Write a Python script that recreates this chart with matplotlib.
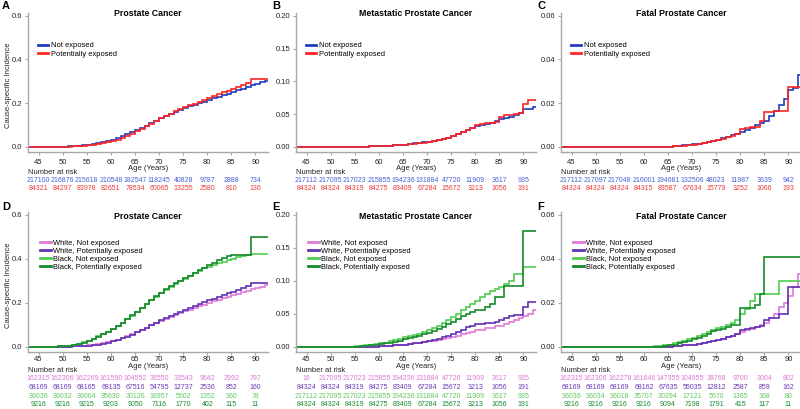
import numpy as np
import matplotlib.pyplot as plt

plt.rcParams['font.family'] = ['Liberation Sans', 'DejaVu Sans']

# yearly cumulative incidence, one value per age from 43 to 92 (step curves)
first_age = 43
ticks = [45, 50, 55, 60, 65, 70, 75, 80, 85, 90]

# ---- A: prostate cancer
a_not = [0, 0, 0, 0, 0, 0, 0.001,
         0.001, 0.002, 0.003, 0.004, 0.006, 0.008, 0.011, 0.015, 0.020, 0.026,
         0.033, 0.040, 0.048, 0.057, 0.066, 0.076, 0.086, 0.097, 0.108, 0.119,
         0.130, 0.140, 0.150, 0.159, 0.168, 0.177, 0.185, 0.193, 0.200, 0.207,
         0.214, 0.222, 0.230, 0.237, 0.244, 0.251, 0.259, 0.267, 0.275, 0.282,
         0.289, 0.296, 0.302]
a_pot = [0, 0, 0, 0, 0, 0, 0.001,
         0.001, 0.001, 0.002, 0.003, 0.004, 0.006, 0.008, 0.011, 0.015, 0.020,
         0.027, 0.033, 0.041, 0.050, 0.060, 0.071, 0.082, 0.094, 0.106, 0.118,
         0.130, 0.141, 0.152, 0.162, 0.172, 0.181, 0.190, 0.198, 0.206, 0.214,
         0.222, 0.231, 0.240, 0.249, 0.257, 0.265, 0.274, 0.283, 0.291, 0.312,
         0.312, 0.312, 0.312]

# ---- B: metastatic prostate cancer
b_not = [0, 0, 0, 0, 0, 0, 0,
         0, 0, 0, 0, 0, 0, 0, 0, 0.0005, 0.0005,
         0.001, 0.001, 0.001, 0.002, 0.002, 0.003, 0.004, 0.005, 0.006, 0.007,
         0.008, 0.009, 0.011, 0.012, 0.014, 0.016, 0.019, 0.022, 0.025, 0.028,
         0.031, 0.033, 0.035, 0.037, 0.039, 0.042, 0.044, 0.046, 0.049, 0.051,
         0.057, 0.057, 0.061]
b_pot = [0, 0, 0, 0, 0, 0, 0,
         0, 0, 0, 0, 0, 0, 0, 0, 0.0005, 0.0005,
         0.001, 0.001, 0.001, 0.002, 0.002, 0.003, 0.004, 0.004, 0.005, 0.006,
         0.007, 0.009, 0.010, 0.012, 0.014, 0.017, 0.020, 0.023, 0.026, 0.029,
         0.033, 0.035, 0.036, 0.037, 0.038, 0.045, 0.048, 0.048, 0.050, 0.051,
         0.065, 0.072, 0.072]

# ---- C: fatal prostate cancer
c_not = [0, 0, 0, 0, 0, 0, 0,
         0, 0, 0, 0, 0, 0, 0, 0, 0, 0,
         0, 0, 0, 0, 0, 0.0001, 0.0002, 0.0004, 0.0006, 0.0008,
         0.0011, 0.0014, 0.0018, 0.0022, 0.0027, 0.0032, 0.0038, 0.0045, 0.0052, 0.0060,
         0.0068, 0.0078, 0.0088, 0.0098, 0.0110, 0.0120, 0.0140, 0.0165, 0.0190, 0.0220,
         0.0260, 0.0270, 0.0330]
c_pot = [0, 0, 0, 0, 0, 0, 0,
         0, 0, 0, 0, 0, 0, 0, 0, 0, 0,
         0, 0, 0, 0, 0, 0.0001, 0.0002, 0.0003, 0.0005, 0.0007,
         0.0010, 0.0013, 0.0017, 0.0021, 0.0026, 0.0030, 0.0036, 0.0044, 0.0050, 0.0058,
         0.0082, 0.0085, 0.0090, 0.0092, 0.0120, 0.0160, 0.0160, 0.0165, 0.0165, 0.0165,
         0.0275, 0.0275, 0.0275]

# ---- D: prostate cancer by race
d_wn = [0, 0, 0, 0, 0, 0, 0.001,
        0.001, 0.001, 0.002, 0.003, 0.004, 0.006, 0.008, 0.011, 0.015, 0.020,
        0.026, 0.032, 0.039, 0.047, 0.056, 0.066, 0.076, 0.086, 0.097, 0.107,
        0.117, 0.126, 0.135, 0.144, 0.153, 0.161, 0.169, 0.177, 0.185, 0.192,
        0.199, 0.206, 0.213, 0.220, 0.227, 0.234, 0.241, 0.248, 0.255, 0.261,
        0.267, 0.274, 0.280]
d_wp = [0, 0, 0, 0, 0, 0, 0.001,
        0.001, 0.001, 0.002, 0.003, 0.004, 0.005, 0.007, 0.010, 0.014, 0.019,
        0.025, 0.031, 0.038, 0.046, 0.055, 0.065, 0.076, 0.087, 0.098, 0.109,
        0.120, 0.130, 0.140, 0.150, 0.160, 0.169, 0.178, 0.187, 0.195, 0.203,
        0.211, 0.219, 0.227, 0.235, 0.243, 0.251, 0.259, 0.267, 0.275, 0.290,
        0.290, 0.290, 0.290]
d_bn = [0, 0, 0, 0, 0.001, 0.001, 0.002,
        0.003, 0.005, 0.009, 0.014, 0.020, 0.028, 0.037, 0.047, 0.058, 0.069,
        0.081, 0.095, 0.110, 0.125, 0.141, 0.158, 0.176, 0.194, 0.211, 0.228,
        0.244, 0.259, 0.273, 0.286, 0.298, 0.310, 0.322, 0.334, 0.346, 0.356,
        0.365, 0.373, 0.380, 0.387, 0.394, 0.401, 0.407, 0.413, 0.418, 0.421,
        0.421, 0.421, 0.421]
d_bp = [0, 0, 0, 0, 0.001, 0.001, 0.002,
        0.003, 0.005, 0.008, 0.013, 0.019, 0.027, 0.036, 0.046, 0.057, 0.068,
        0.080, 0.094, 0.110, 0.126, 0.143, 0.160, 0.178, 0.196, 0.213, 0.230,
        0.246, 0.261, 0.275, 0.288, 0.300, 0.312, 0.324, 0.336, 0.348, 0.359,
        0.370, 0.382, 0.395, 0.405, 0.412, 0.417, 0.417, 0.417, 0.417, 0.500,
        0.500, 0.500, 0.500]

# ---- E: metastatic by race
e_wn = [0, 0, 0, 0, 0, 0, 0,
        0, 0, 0, 0, 0, 0, 0, 0, 0, 0,
        0.0005, 0.001, 0.0015, 0.002, 0.003, 0.003, 0.004, 0.005, 0.006, 0.007,
        0.008, 0.009, 0.010, 0.012, 0.013, 0.015, 0.017, 0.019, 0.021, 0.023,
        0.025, 0.026, 0.028, 0.029, 0.031, 0.032, 0.034, 0.037, 0.040, 0.043,
        0.047, 0.050, 0.055]
e_wp = [0, 0, 0, 0, 0, 0, 0,
        0, 0, 0, 0, 0, 0, 0, 0, 0, 0,
        0.0005, 0.001, 0.0015, 0.002, 0.003, 0.003, 0.004, 0.005, 0.006, 0.007,
        0.008, 0.010, 0.012, 0.014, 0.016, 0.019, 0.022, 0.026, 0.030, 0.032,
        0.034, 0.035, 0.036, 0.036, 0.038, 0.040, 0.044, 0.046, 0.048, 0.048,
        0.060, 0.068, 0.068]
e_bn = [0, 0, 0, 0, 0, 0, 0,
        0, 0, 0, 0, 0, 0.0005, 0.001, 0.002, 0.003, 0.004,
        0.005, 0.006, 0.008, 0.010, 0.012, 0.014, 0.016, 0.018, 0.020, 0.022,
        0.025, 0.028, 0.032, 0.036, 0.040, 0.045, 0.050, 0.055, 0.060, 0.065,
        0.070, 0.075, 0.080, 0.085, 0.088, 0.090, 0.095, 0.100, 0.110, 0.110,
        0.121, 0.121, 0.121]
e_bp = [0, 0, 0, 0, 0, 0, 0,
        0, 0, 0, 0, 0, 0, 0.0005, 0.001, 0.002, 0.003,
        0.004, 0.005, 0.006, 0.007, 0.009, 0.011, 0.013, 0.015, 0.017, 0.019,
        0.021, 0.024, 0.027, 0.030, 0.034, 0.038, 0.042, 0.046, 0.050, 0.053,
        0.055, 0.055, 0.060, 0.065, 0.075, 0.075, 0.092, 0.092, 0.092, 0.092,
        0.175, 0.175, 0.175]

# ---- F: fatal by race
f_wn = [0, 0, 0, 0, 0, 0, 0,
        0, 0, 0, 0, 0, 0, 0, 0, 0, 0,
        0, 0, 0, 0, 0, 0, 0.0002, 0.0004, 0.0006, 0.0008,
        0.0010, 0.0013, 0.0017, 0.0021, 0.0025, 0.0030, 0.0036, 0.0043, 0.0050, 0.0058,
        0.0066, 0.0075, 0.0082, 0.0090, 0.0098, 0.0110, 0.0130, 0.0150, 0.0180, 0.0200,
        0.0230, 0.0270, 0.0330]
f_wp = [0, 0, 0, 0, 0, 0, 0,
        0, 0, 0, 0, 0, 0, 0, 0, 0, 0,
        0, 0, 0, 0, 0, 0, 0.0002, 0.0004, 0.0006, 0.0008,
        0.0010, 0.0014, 0.0018, 0.0022, 0.0026, 0.0030, 0.0037, 0.0044, 0.0050, 0.0056,
        0.0075, 0.0080, 0.0085, 0.0090, 0.0095, 0.0120, 0.0130, 0.0130, 0.0150, 0.0150,
        0.0270, 0.0270, 0.0270]
f_bn = [0, 0, 0, 0, 0, 0, 0,
        0, 0, 0, 0, 0, 0, 0, 0, 0, 0,
        0, 0, 0.0002, 0.0004, 0.0006, 0.0010, 0.0015, 0.0020, 0.0027, 0.0033,
        0.0040, 0.0048, 0.0056, 0.0065, 0.0075, 0.0085, 0.0090, 0.0100, 0.0110, 0.0120,
        0.0150, 0.0170, 0.0210, 0.0240, 0.0240, 0.0240, 0.0240, 0.0240, 0.0300, 0.0300,
        0.0300, 0.0300, 0.0300]
f_bp = [0, 0, 0, 0, 0, 0, 0,
        0, 0, 0, 0, 0, 0, 0, 0, 0, 0,
        0, 0, 0, 0, 0.0003, 0.0006, 0.0010, 0.0015, 0.0020, 0.0027,
        0.0035, 0.0040, 0.0050, 0.0060, 0.0070, 0.0075, 0.0080, 0.0090, 0.0100, 0.0100,
        0.0175, 0.0175, 0.0175, 0.0190, 0.0240, 0.0410, 0.0410, 0.0410, 0.0410, 0.0410,
        0.0410, 0.0410, 0.0410]

# ---- numbers at risk (at ages 45, 50, ..., 90)
risk_a_not = [217100, 216876, 215618, 210548, 182547, 118245, 40828, 9787, 2888, 734]
risk_a_pot = [84321, 84297, 83978, 82651, 78534, 60065, 13255, 2580, 810, 136]
risk_b_not = [217112, 217095, 217023, 215855, 194236, 131884, 47720, 11909, 3617, 935]
risk_b_pot = [84324, 84324, 84319, 84275, 83409, 67284, 15672, 3213, 1056, 191]
risk_c_not = [217112, 217097, 217048, 216001, 194681, 132506, 48023, 11987, 3639, 942]
risk_c_pot = [84324, 84324, 84324, 84315, 83587, 67634, 15779, 3252, 1066, 193]
risk_d_wn = [162315, 162306, 162269, 161590, 104552, 38550, 33543, 9642, 2992, 797]
risk_d_wp = [68169, 68169, 68165, 68135, 67516, 54795, 12737, 2536, 852, 160]
risk_d_bn = [36036, 36032, 36004, 35630, 30126, 16957, 5602, 1352, 360, 78]
risk_d_bp = [9216, 9216, 9215, 9203, 9050, 7116, 1770, 402, 115, 11]
risk_e_wn = [16, 217095, 217023, 215855, 194236, 131884, 47720, 11909, 3617, 935]
risk_e_wp = [84324, 84324, 84319, 84275, 83409, 67284, 15672, 3213, 1056, 191]
risk_e_bn = [217112, 217095, 217023, 215855, 194236, 131884, 47720, 11909, 3617, 935]
risk_e_bp = [84324, 84324, 84319, 84275, 83409, 67284, 15672, 3213, 1056, 191]
risk_f_wn = [162315, 162306, 162278, 161646, 147955, 104955, 38768, 9700, 3004, 802]
risk_f_wp = [68169, 68169, 68169, 68162, 67635, 55035, 12812, 2587, 859, 162]
risk_f_bn = [36036, 36034, 36018, 35707, 30294, 17121, 5670, 1365, 368, 80]
risk_f_bp = [9216, 9216, 9216, 9216, 9094, 7198, 1791, 415, 117, 11]

labels_exp = ['Not exposed', 'Potentially exposed']
labels_race = ['White, Not exposed', 'White, Potentially exposed',
               'Black, Not exposed', 'Black, Potentially exposed']

# colours
col_blue, col_red = '#1d3cbf', '#ff2424'
txt_blue, txt_red = '#4462d6', '#ec3a3a'
col_pink, col_purple, col_lgreen, col_dgreen = '#e07ad8', '#6232b4', '#4fcc4f', '#158a2c'
txt_pink, txt_purple, txt_lgreen, txt_dgreen = '#dc7ad2', '#6a3ab4', '#5fc85f', '#148a30'

W, H = 800, 409
fig = plt.figure(figsize=(8, 4.09), dpi=100)


def px_rect(left, top, right, bottom):
    return [left / W, 1 - bottom / H, (right - left) / W, (bottom - top) / H]


cols_px = [(28, 268), (296, 536), (561, 801)]
rows_px = [(13, 152), (212, 352)]

panels = [
    ('A', 'Prostate Cancer', 0, 0, [a_not, a_pot], [risk_a_not, risk_a_pot], 'p6'),
    ('B', 'Metastatic Prostate Cancer', 0, 1, [b_not, b_pot], [risk_b_not, risk_b_pot], 'p2'),
    ('C', 'Fatal Prostate Cancer', 0, 2, [c_not, c_pot], [risk_c_not, risk_c_pot], 'p06'),
    ('D', 'Prostate Cancer', 1, 0, [d_wn, d_wp, d_bn, d_bp],
     [risk_d_wn, risk_d_wp, risk_d_bn, risk_d_bp], 'p6'),
    ('E', 'Metastatic Prostate Cancer', 1, 1, [e_wn, e_wp, e_bn, e_bp],
     [risk_e_wn, risk_e_wp, risk_e_bn, risk_e_bp], 'p2'),
    ('F', 'Fatal Prostate Cancer', 1, 2, [f_wn, f_wp, f_bn, f_bp],
     [risk_f_wn, risk_f_wp, risk_f_bn, risk_f_bp], 'p06'),
]

yscales = {
    'p6': ([0.0, 0.2, 0.4, 0.6], '%.1f', (-0.024, 0.613)),
    'p2': ([0.00, 0.05, 0.10, 0.15, 0.20], '%.2f', (-0.008, 0.2043)),
    'p06': ([0.00, 0.02, 0.04, 0.06], '%.2f', (-0.0024, 0.0613)),
}

for letter, title, r, c, series, risks, ykey in panels:
    top, bottom = rows_px[r]
    left, right = cols_px[c]
    ax = fig.add_axes(px_rect(left, top, right, bottom))
    hgt = bottom - top

    if r == 0:
        line_cols = [col_blue, col_red]
        text_cols = [txt_blue, txt_red]
        labs = labels_exp
    else:
        line_cols = [col_pink, col_purple, col_lgreen, col_dgreen]
        text_cols = [txt_pink, txt_purple, txt_lgreen, txt_dgreen]
        labs = labels_race

    edges = np.arange(first_age, first_age + len(series[0]) + 1)
    handles = []
    for vals, lc, lab in zip(series, line_cols, labs):
        ax.stairs(vals, edges, baseline=None, color=lc, lw=1.2)
        h, = ax.plot([], [], color=lc, lw=2.0, label=lab)
        handles.append(h)

    yt, fmt, ylim = yscales[ykey]
    ax.set_xlim(42.8, 92.6)
    ax.set_ylim(*ylim)
    ax.set_xticks(ticks)
    ax.set_yticks(yt)
    ax.set_yticklabels([fmt % v for v in yt])

    for s in ['top', 'right']:
        ax.spines[s].set_visible(False)
    for s in ['left', 'bottom']:
        ax.spines[s].set_color('#a8a8a8')
        ax.spines[s].set_linewidth(1.0)
    ax.tick_params(axis='both', length=2.5, width=0.8, color='#a8a8a8',
                   labelsize=5.5, labelcolor='#222222')
    ax.tick_params(axis='x', pad=2.5 if r == 0 else 0.4)
    ax.tick_params(axis='y', pad=1.5)

    ax.set_xlabel('Age (Years)', fontsize=5.5, color='#222222')
    ax.xaxis.set_label_coords(0.5, (bottom - (165 if r == 0 else 363)) / hgt)
    if c == 0:
        ax.set_ylabel('Cause-specific Incidence', fontsize=5.5, color='#222222')
        ax.yaxis.set_label_coords(-0.068, 0.48)

    ax.text(0.5, 1.0 if r == 0 else 0.965, title, transform=ax.transAxes,
            ha='center', va='center', fontsize=6.3, fontweight='bold')

    ax.legend(handles=handles, loc='upper left',
              bbox_to_anchor=(0.04, 0.79) if r == 0 else (0.05, 0.805),
              frameon=False, fontsize=5.4, handlelength=1.4, handletextpad=0.35,
              labelspacing=0.12, borderpad=0, borderaxespad=0)

    # number at risk table
    ax.text(0.0, (bottom - (172.5 if r == 0 else 370)) / hgt, 'Number at risk',
            transform=ax.transAxes, ha='left', va='center', fontsize=5.4,
            color='#222222', clip_on=False)
    row_y = [181, 188.5] if r == 0 else [379, 387.5, 396.5, 405]
    for counts, tc, yp in zip(risks, text_cols, row_y):
        for t, n in zip(ticks, counts):
            ax.text(t, (bottom - yp) / hgt, str(n), transform=ax.get_xaxis_transform(),
                    ha='center', va='center', fontsize=5.0, color=tc, clip_on=False)

    fig.text((left - 26) / W if c == 0 else (left - 24) / W, 1 - (top - 7 if r == 0 else top - 5) / H,
             letter, ha='left', va='center', fontsize=8, fontweight='bold')

fig.savefig('out.png', dpi=100)
